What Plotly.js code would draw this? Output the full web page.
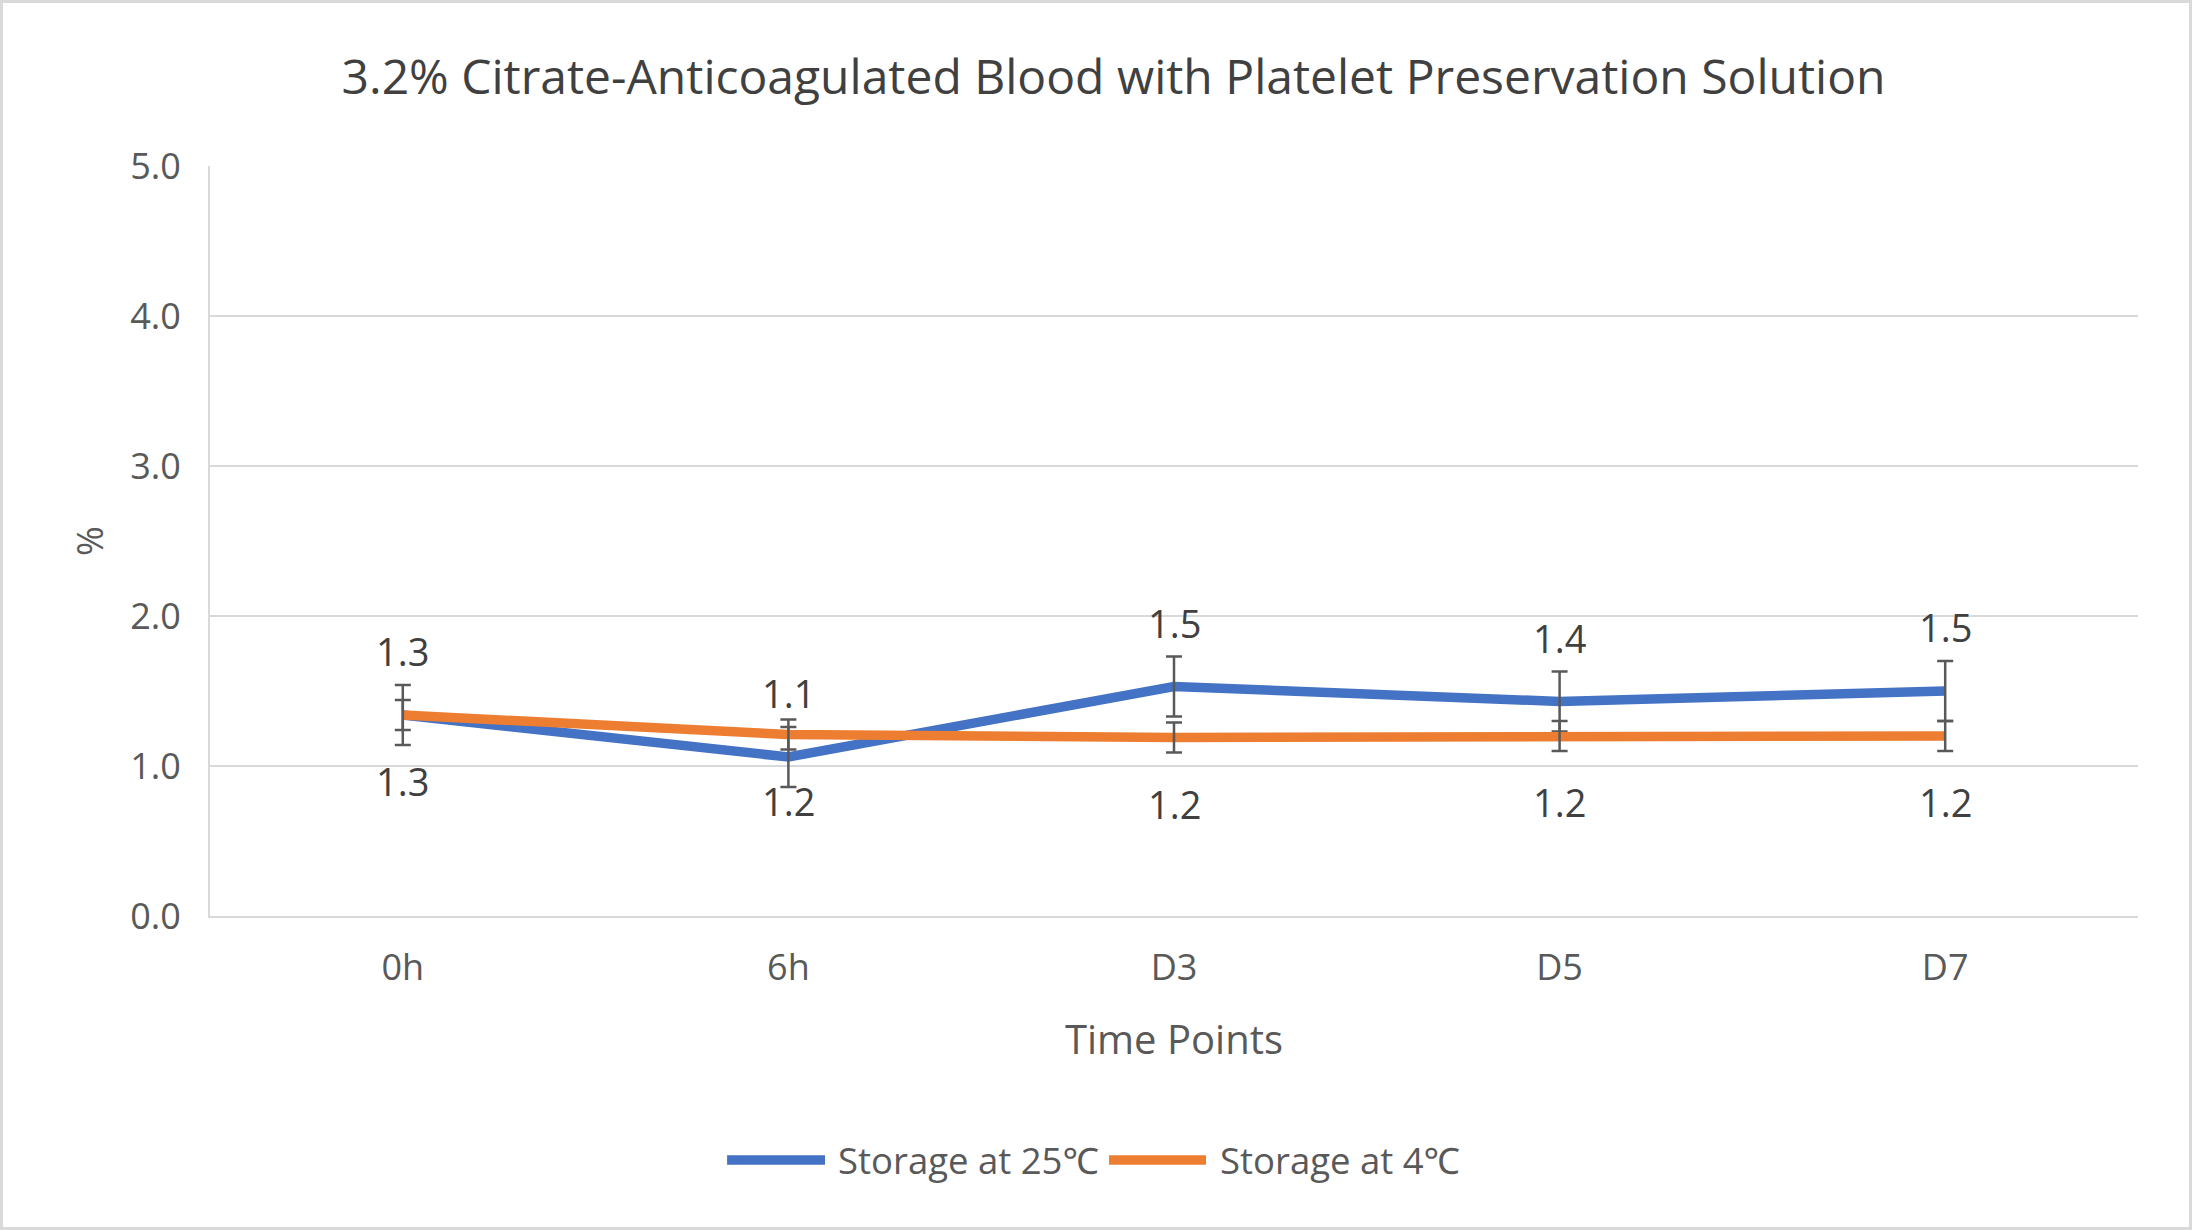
<!DOCTYPE html>
<html>
<head>
<meta charset="utf-8">
<script src="https://cdn.plot.ly/plotly-3.0.1.min.js"></script>
<style>
  html, body { margin: 0; padding: 0; background: #ffffff; overflow: hidden; }
  #wrap { position: relative; width: 2192px; height: 1230px; }
  #chart { width: 2192px; height: 1230px; }
  #frame { position: absolute; left: 0; top: 0; width: 2192px; height: 1230px;
           box-sizing: border-box; border: 3px solid #d9d9d9; pointer-events: none; }
</style>
</head>
<body>
<div id="wrap">
  <div id="chart"></div>
  <div id="frame"></div>
</div>
<script>
// Time points on the x axis
const timePoints = ['0h', '6h', 'D3', 'D5', 'D7'];

// Mean values (%) for each storage condition
const storage25 = [1.34, 1.06, 1.53, 1.43, 1.50];
const storage4  = [1.34, 1.21, 1.19, 1.20, 1.20];

// Error bar half-widths (%)
const err25 = [0.2, 0.2, 0.2, 0.2, 0.2];
const err4  = [0.1, 0.1, 0.1, 0.1, 0.1];

const seriesNames = ['Storage at 25\u2103', 'Storage at 4\u2103'];
const seriesColors = ['#4472C4', '#ED7D31'];

const FONT = '"Open Sans", "Noto Sans", sans-serif';
const LINE_W = 9.5;

function lineTrace(y, name, color) {
  return {
    type: 'scatter', mode: 'lines', x: timePoints, y: y, name: name,
    line: { color: color, width: LINE_W },
    showlegend: false, hoverinfo: 'x+y+name'
  };
}

function errorTrace(y, err) {
  return {
    type: 'scatter', mode: 'markers', x: timePoints, y: y,
    marker: { size: 1, opacity: 0 },
    error_y: { type: 'data', array: err, visible: true,
               color: '#595959', thickness: 2.5, width: 8 },
    showlegend: false, hoverinfo: 'skip'
  };
}

const data = [
  lineTrace(storage25, seriesNames[0], seriesColors[0]),
  errorTrace(storage25, err25),
  lineTrace(storage4, seriesNames[1], seriesColors[1]),
  errorTrace(storage4, err4)
];

// Value labels: 25°C series above its points, 4°C series below
const annotations = [];
timePoints.forEach((t, i) => {
  annotations.push({
    x: t, y: storage25[i], xref: 'x', yref: 'y',
    text: storage25[i].toFixed(1), showarrow: false,
    yshift: 64, yanchor: 'middle',
    font: { family: FONT, size: 38, color: '#404040' }
  });
  annotations.push({
    x: t, y: storage4[i], xref: 'x', yref: 'y',
    text: storage4[i].toFixed(1), showarrow: false,
    yshift: -66, yanchor: 'middle',
    font: { family: FONT, size: 38, color: '#404040' }
  });
});

// Legend drawn below the axis title
const legendItems = [
  { x0: 0.2682, x1: 0.3190, tx: 0.3247 },
  { x0: 0.4663, x1: 0.5166, tx: 0.5228 }
];
const legendY = -0.3253;
const shapes = [];
legendItems.forEach((it, k) => {
  shapes.push({
    type: 'line', xref: 'paper', yref: 'paper',
    x0: it.x0, x1: it.x1, y0: legendY, y1: legendY,
    line: { color: seriesColors[k], width: LINE_W }
  });
  annotations.push({
    x: it.tx, y: legendY, xref: 'paper', yref: 'paper',
    text: seriesNames[k], showarrow: false,
    xanchor: 'left', yanchor: 'middle',
    font: { family: FONT, size: 36.5, color: '#595959' }
  });
});

const layout = {
  width: 2192, height: 1230,
  margin: { l: 210, r: 54, t: 166, b: 314, pad: 0 },
  paper_bgcolor: '#ffffff', plot_bgcolor: '#ffffff',
  showlegend: false,
  title: {
    text: '3.2% Citrate-Anticoagulated Blood with Platelet Preservation Solution',
    font: { family: FONT, size: 48, color: '#404040' },
    xref: 'container', yref: 'container',
    x: 0.508, xanchor: 'center', y: 1 - 77 / 1230, yanchor: 'middle'
  },
  xaxis: {
    type: 'category', categoryorder: 'array', categoryarray: timePoints,
    range: [-0.5, timePoints.length - 0.5],
    showgrid: false, zeroline: false,
    showline: true, linecolor: '#d9d9d9', linewidth: 2,
    ticks: '', ticklabelstandoff: 19,
    tickfont: { family: FONT, size: 36, color: '#595959' },
    title: { text: 'Time Points', standoff: 36,
             font: { family: FONT, size: 40, color: '#595959' } },
    fixedrange: true
  },
  yaxis: {
    range: [0, 5], dtick: 1, tick0: 0, tickformat: '.1f',
    showgrid: true, gridcolor: '#d9d9d9', gridwidth: 2,
    zeroline: false,
    showline: true, linecolor: '#d9d9d9', linewidth: 2,
    ticks: '', ticklabelstandoff: 20,
    tickfont: { family: FONT, size: 36, color: '#595959' },
    title: { text: '%', standoff: 16,
             font: { family: FONT, size: 36, color: '#595959' } },
    fixedrange: true
  },
  shapes: shapes,
  annotations: annotations
};

Plotly.newPlot('chart', data, layout, { displayModeBar: false, staticPlot: true });
</script>
</body>
</html>
